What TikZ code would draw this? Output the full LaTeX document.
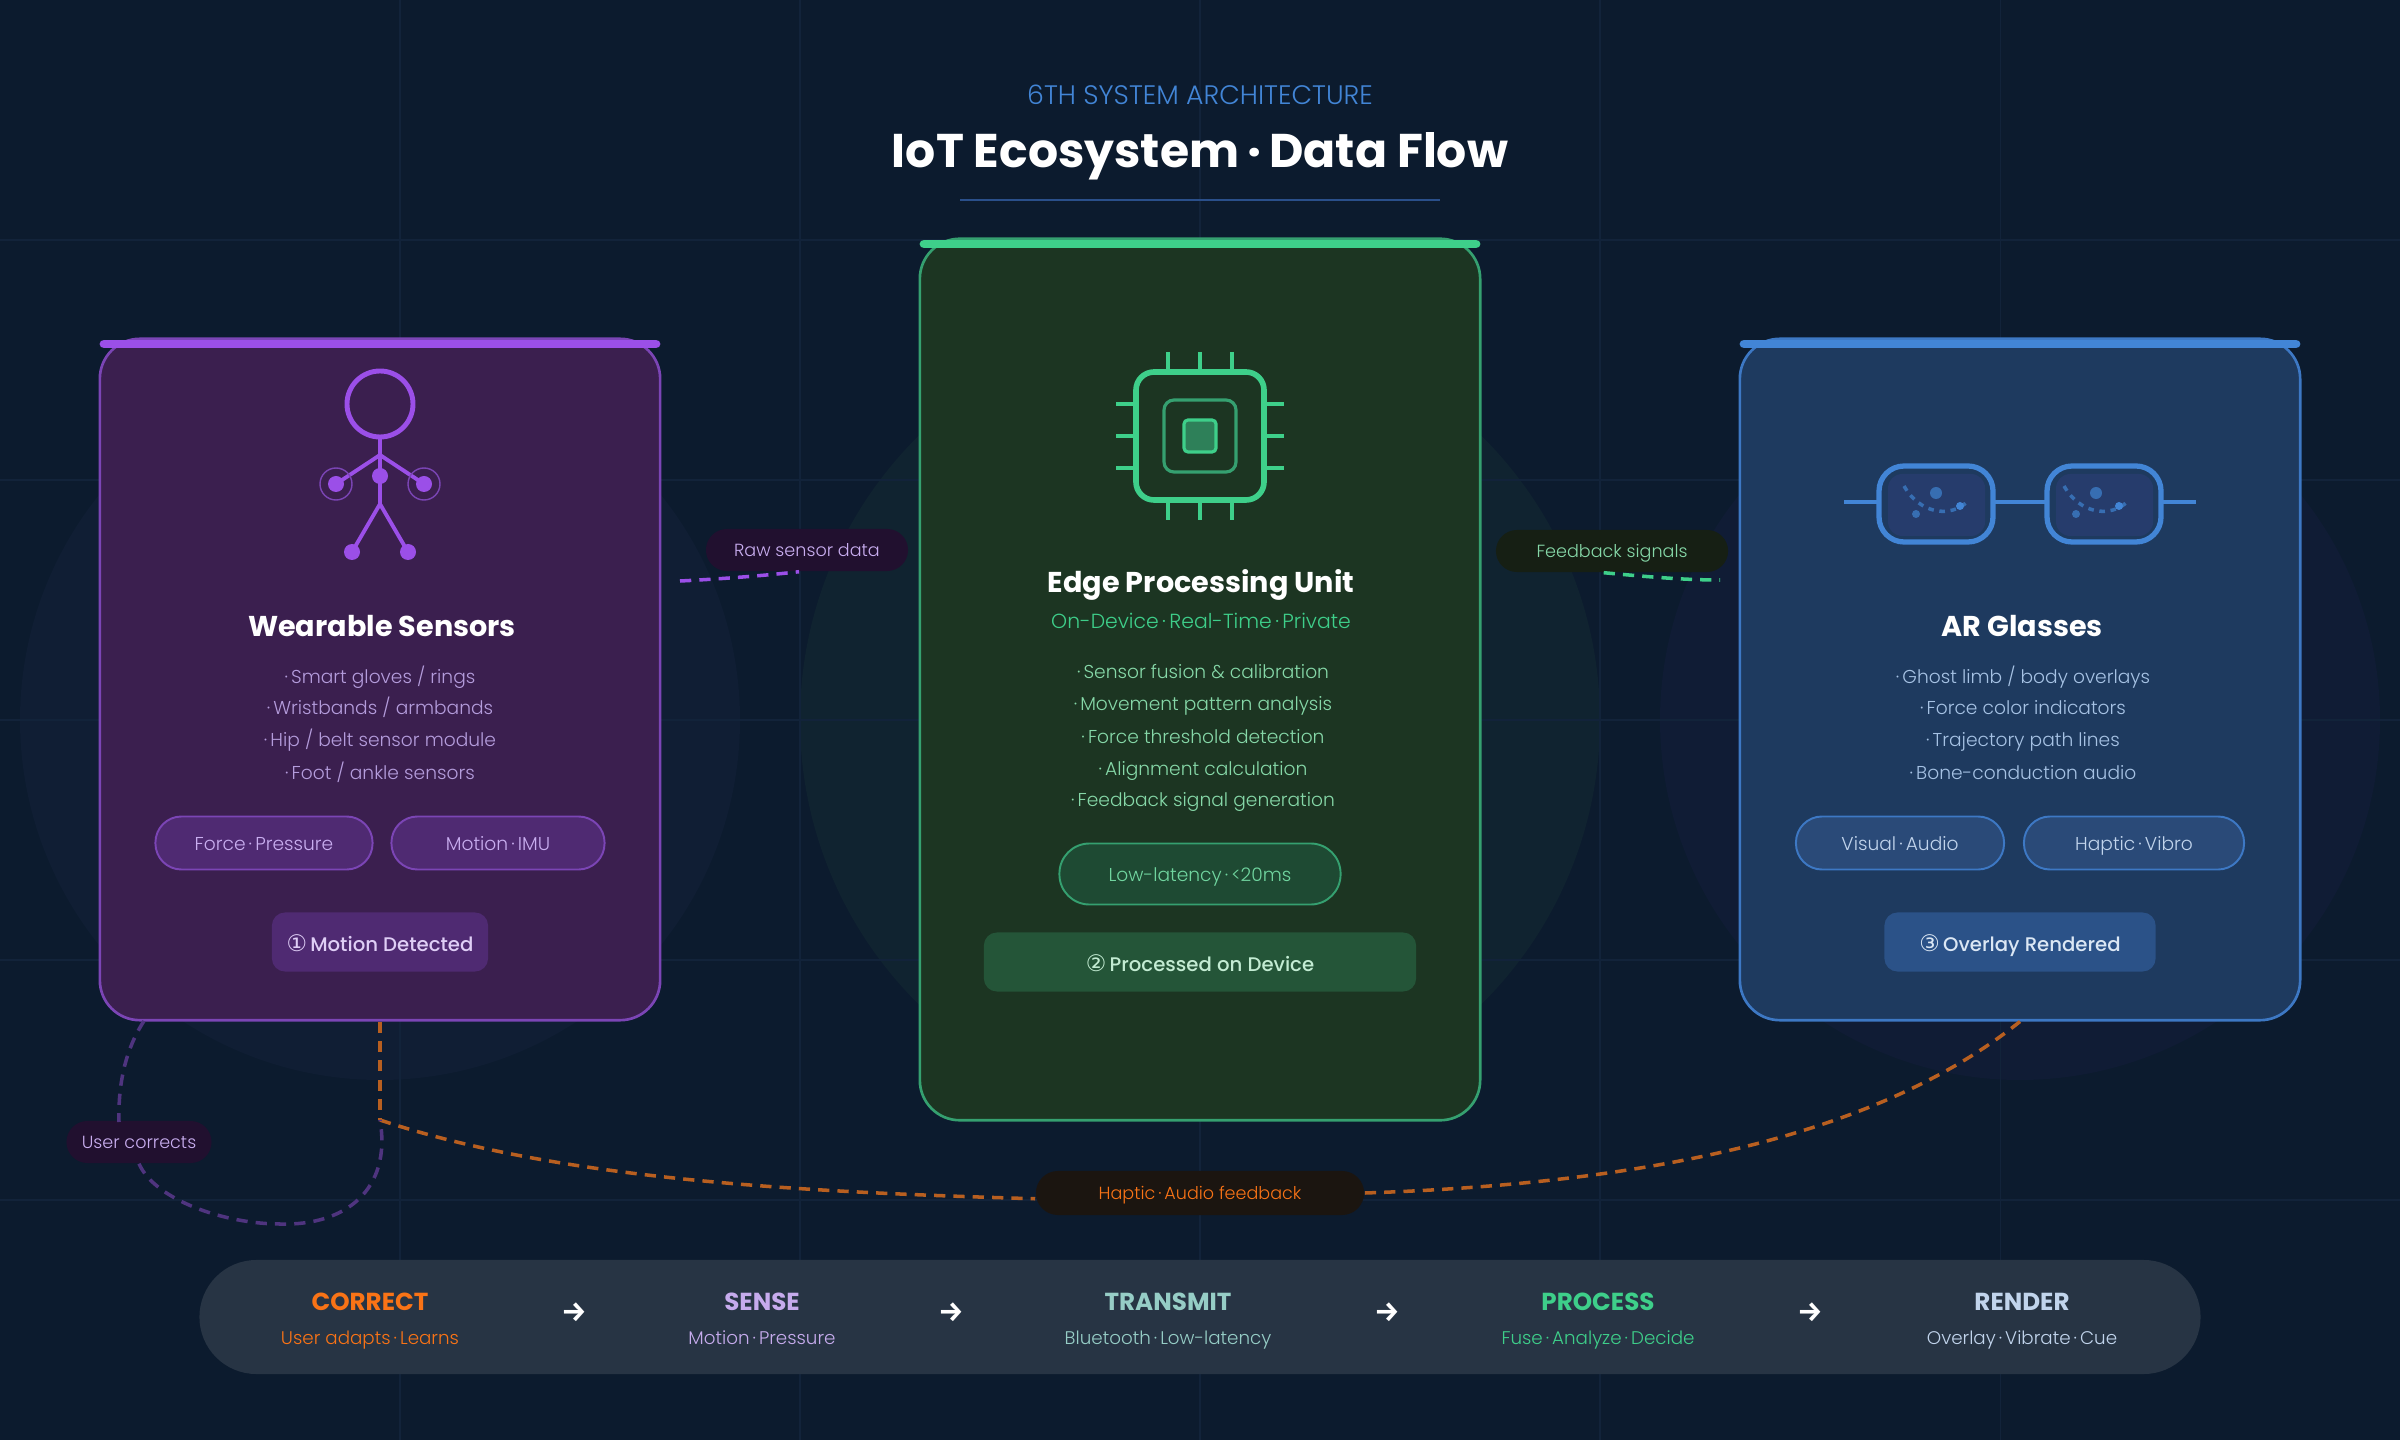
\documentclass[tikz,border=0pt]{standalone}
\usepackage{fontspec}
\usepackage{xcolor}
\setmainfont{Poppins}
\newfontfamily\symfont{DejaVu Sans}
\newfontfamily\arrowfont{Fira Sans}
\newfontfamily\lightfont{Poppins Light}
\newfontfamily\medfont{Poppins Medium}
\usetikzlibrary{arrows.meta, positioning, calc}

\definecolor{bgdark}{HTML}{0C1B2E}
\definecolor{gridcol}{HTML}{12233A}
\definecolor{glowpurple}{HTML}{101E34}
\definecolor{glowgreen}{HTML}{102330}
\definecolor{glowblue}{HTML}{101C35}
\definecolor{ruleblue}{HTML}{2A4F8A}
\definecolor{purplefill}{HTML}{3B1F4F}
\definecolor{purpleline}{HTML}{7B45B5}
\definecolor{purplemain}{HTML}{9B4FE8}
\definecolor{purpletext}{HTML}{B49CDC}
\definecolor{purplepill}{HTML}{4F2A72}
\definecolor{purplechip}{HTML}{C9AEF0}
\definecolor{purplelabel}{HTML}{21102F}
\definecolor{greenfill}{HTML}{1C3522}
\definecolor{greenline}{HTML}{35A070}
\definecolor{greenmain}{HTML}{3ECF8A}
\definecolor{greentext}{HTML}{86D8A8}
\definecolor{greenpill}{HTML}{1E4A33}
\definecolor{greenbadge}{HTML}{245538}
\definecolor{greenlabel}{HTML}{161F14}
\definecolor{bluefill}{HTML}{1E3A5F}
\definecolor{blueline}{HTML}{3D78C4}
\definecolor{bluemain}{HTML}{4285D6}
\definecolor{bluetext}{HTML}{A6C2E4}
\definecolor{bluepill}{HTML}{2A4A78}
\definecolor{bluebadge}{HTML}{2B5288}
\definecolor{bluelens}{HTML}{263C6C}
\definecolor{orangemain}{HTML}{F97316}
\definecolor{orangeline}{HTML}{B85F20}
\definecolor{orangelabel}{HTML}{1B1510}
\definecolor{barfill}{HTML}{273444}

\newcommand{\sepdot}{\,·\,}
\newcommand{\stagemark}[1]{{\symfont\fontsize{6.5}{7}\selectfont #1}\,}

\tikzset{
  card/.style={rectangle, rounded corners=0.4cm, line width=0.75pt, minimum width=5.6cm},
  topbar/.style={line width=2.5pt, line cap=round},
  cardtitle/.style={anchor=base, text=white, font=\fontsize{8.15}{9}\selectfont\bfseries},
  listline/.style={anchor=base, font=\lightfont\fontsize{5.3}{7}\selectfont},
  chippill/.style={rectangle, rounded corners=0.26cm, line width=0.55pt, minimum height=0.53cm, inner sep=0pt,
    text height=0.14cm, text depth=0pt, font=\lightfont\fontsize{5.3}{7}\selectfont},
  stagebadge/.style={rectangle, rounded corners=0.13cm, minimum height=0.59cm, inner sep=0pt,
    text height=0.19cm, text depth=0pt, font=\medfont\fontsize{5.6}{7}\selectfont},
  flowlabel/.style={rectangle, rounded corners=0.21cm, minimum height=0.42cm, inner sep=0pt,
    text height=0.13cm, text depth=0pt, font=\lightfont\fontsize{5}{6}\selectfont},
  flowline/.style={line width=1pt, dash pattern=on 3.2pt off 2.3pt},
  gridline/.style={gridcol, line width=0.3pt},
  stepname/.style={anchor=base, font=\fontsize{7}{8}\selectfont\bfseries},
  stepsub/.style={anchor=base, font=\lightfont\fontsize{5.2}{6}\selectfont},
  steparrow/.style={text=white, font=\arrowfont\bfseries\fontsize{8}{9}\selectfont},
}

\begin{document}
\begin{tikzpicture}[x=0.01cm, y=-0.01cm]
\useasboundingbox (0,0) rectangle (2400,1440);
\fill[bgdark] (0,0) rectangle (2400,1440);

% glow
\fill[glowpurple] (380,720) circle[radius=360];
\fill[glowgreen] (1200,720) circle[radius=400];
\fill[glowblue] (2020,720) circle[radius=360];

% grid
\draw[gridline] (0,240) -- (2400,240);
\draw[gridline] (0,480) -- (2400,480);
\draw[gridline] (0,720) -- (2400,720);
\draw[gridline] (0,960) -- (2400,960);
\draw[gridline] (0,1200) -- (2400,1200);
\draw[gridline] (400,0) -- (400,1440);
\draw[gridline] (800,0) -- (800,1440);
\draw[gridline] (1200,0) -- (1200,1440);
\draw[gridline] (1600,0) -- (1600,1440);
\draw[gridline] (2000,0) -- (2000,1440);

% heading
\node[anchor=base, text=bluemain, font=\lightfont\fontsize{7.6}{9}\selectfont] (headtop) at (1200,105) {6TH SYSTEM ARCHITECTURE};
\node[anchor=base, text=white, font=\fontsize{13.45}{16}\selectfont\bfseries] (headmain) at (1200,168) {IoT Ecosystem\sepdot Data Flow};
\draw[ruleblue, line width=0.6pt] (960,200) -- (1440,200);

% bottom strip
\node[rectangle, rounded corners=0.57cm, fill=barfill, minimum width=20cm, minimum height=1.14cm] (stripbox) at (1200,1317) {};

% wearable card
\node[card, fill=purplefill, draw=purpleline, minimum height=6.81cm] (wearcard) at (380,679.5) {};
\draw[topbar, purplemain] (104,344) -- (656,344);
\draw[purplemain, line width=1.4pt] (380,404) circle[radius=33];
\draw[purplemain, line width=1.4pt] (380,437) -- (380,504);
\draw[purplemain, line width=1.1pt] (380,455) -- (336,484);
\draw[purplemain, line width=1.1pt] (380,455) -- (424,484);
\draw[purplemain, line width=1.1pt] (380,504) -- (352,552);
\draw[purplemain, line width=1.1pt] (380,504) -- (408,552);
\fill[purplemain] (380,476) circle[radius=8];
\fill[purplemain] (336,484) circle[radius=8];
\fill[purplemain] (424,484) circle[radius=8];
\fill[purplemain] (352,552) circle[radius=8];
\fill[purplemain] (408,552) circle[radius=8];
\draw[purpleline, line width=0.4pt] (336,484) circle[radius=16];
\draw[purpleline, line width=0.4pt] (424,484) circle[radius=16];
\node[cardtitle] (weartitle) at (382,636.5) {Wearable Sensors};
\node[listline, text=purpletext] (wearline1) at (380,683) {·\,Smart gloves / rings};
\node[listline, text=purpletext] (wearline2) at (380,715) {·\,Wristbands / armbands};
\node[listline, text=purpletext] (wearline3) at (380,747) {·\,Hip / belt sensor module};
\node[listline, text=purpletext] (wearline4) at (380,779) {·\,Foot / ankle sensors};
\node[chippill, fill=purplepill, draw=purpleline, text=purplechip, minimum width=2.17cm] (wearchipa) at (264,843) {Force\sepdot Pressure};
\node[chippill, fill=purplepill, draw=purpleline, text=purplechip, minimum width=2.13cm] (wearchipb) at (498,843) {Motion\sepdot IMU};
\node[stagebadge, fill=purplepill, text=purplechip!60!white, minimum width=2.16cm] (wearbadge) at (380,942) {\stagemark{①}Motion Detected};

% edge card
\node[card, fill=greenfill, draw=greenline, minimum height=8.81cm] (edgecard) at (1200,679.5) {};
\draw[topbar, greenmain] (924,244) -- (1476,244);
\draw[greenmain, line width=1.6pt, rounded corners=0.18cm] (1136,372) rectangle (1264,500);
\draw[greenline, line width=0.9pt, rounded corners=0.1cm] (1164,400) rectangle (1236,472);
\draw[greenmain, line width=0.9pt, fill=greenline!70!greenfill, rounded corners=0.04cm] (1184,420) rectangle (1216,452);
\draw[greenmain, line width=1.1pt] (1168,352) -- (1168,372);
\draw[greenmain, line width=1.1pt] (1200,352) -- (1200,372);
\draw[greenmain, line width=1.1pt] (1232,352) -- (1232,372);
\draw[greenmain, line width=1.1pt] (1168,500) -- (1168,520);
\draw[greenmain, line width=1.1pt] (1200,500) -- (1200,520);
\draw[greenmain, line width=1.1pt] (1232,500) -- (1232,520);
\draw[greenmain, line width=1.1pt] (1116,404) -- (1136,404);
\draw[greenmain, line width=1.1pt] (1116,436) -- (1136,436);
\draw[greenmain, line width=1.1pt] (1116,468) -- (1136,468);
\draw[greenmain, line width=1.1pt] (1264,404) -- (1284,404);
\draw[greenmain, line width=1.1pt] (1264,436) -- (1284,436);
\draw[greenmain, line width=1.1pt] (1264,468) -- (1284,468);
\node[cardtitle] (edgetitle) at (1201,592.5) {Edge Processing Unit};
\node[anchor=base, text=greenmain, font=\lightfont\fontsize{5.8}{7}\selectfont] (edgesub) at (1201,628.5) {On-Device\sepdot Real-Time\sepdot Private};
\node[listline, text=greentext] (edgeline1) at (1203,679) {·\,Sensor fusion \& calibration};
\node[listline, text=greentext] (edgeline2) at (1203,711) {·\,Movement pattern analysis};
\node[listline, text=greentext] (edgeline3) at (1203,743) {·\,Force threshold detection};
\node[listline, text=greentext] (edgeline4) at (1203,775) {·\,Alignment calculation};
\node[listline, text=greentext] (edgeline5) at (1203,807) {·\,Feedback signal generation};
\node[chippill, rounded corners=0.3cm, fill=greenpill, draw=greenline, text=greentext!70!greenmain, minimum width=2.81cm, minimum height=0.61cm] (edgechip) at (1200,874) {Low-latency\sepdot <20ms};
\node[stagebadge, fill=greenbadge, text=greentext!50!white, minimum width=4.32cm] (edgebadge) at (1200,962) {\stagemark{②}Processed on Device};

% glasses card
\node[card, fill=bluefill, draw=blueline, minimum height=6.81cm] (arcard) at (2020,679.5) {};
\draw[topbar, bluemain] (1744,344) -- (2296,344);
\fill[bluelens, rounded corners=0.14cm] (1888,474) rectangle (1985,536);
\fill[bluelens, rounded corners=0.14cm] (2056,474) rectangle (2153,536);
\draw[bluemain, line width=1.5pt, rounded corners=0.25cm] (1879,466) rectangle (1993,542);
\draw[bluemain, line width=1.5pt, rounded corners=0.25cm] (2047,466) rectangle (2161,542);
\draw[bluemain, line width=1.1pt] (1844,502) -- (1879,502);
\draw[bluemain, line width=1.1pt] (1993,502) -- (2047,502);
\draw[bluemain, line width=1.1pt] (2161,502) -- (2196,502);
\draw[bluemain!70!bluefill, line width=1pt, dash pattern=on 1.6pt off 1.6pt] (1904,486) .. controls (1920,514) and (1950,518) .. (1967,502);
\draw[bluemain!70!bluefill, line width=1pt, dash pattern=on 1.6pt off 1.6pt] (2064,486) .. controls (2080,514) and (2110,518) .. (2127,502);
\fill[bluemain!70!bluefill] (1936,493) circle[radius=6];
\fill[bluemain!70!bluefill] (1916,514) circle[radius=4];
\fill[bluemain] (1960,506) circle[radius=4];
\fill[bluemain!70!bluefill] (2096,493) circle[radius=6];
\fill[bluemain!70!bluefill] (2076,514) circle[radius=4];
\fill[bluemain] (2119,506) circle[radius=4];
\node[cardtitle] (artitle) at (2022,636.5) {AR Glasses};
\node[listline, text=bluetext] (arline1) at (2023,683) {·\,Ghost limb / body overlays};
\node[listline, text=bluetext] (arline2) at (2023,715) {·\,Force color indicators};
\node[listline, text=bluetext] (arline3) at (2023,747) {·\,Trajectory path lines};
\node[listline, text=bluetext] (arline4) at (2023,779) {·\,Bone-conduction audio};
\node[chippill, fill=bluepill, draw=blueline, text=bluetext!70!white, minimum width=2.08cm] (archipa) at (1900,843) {Visual\sepdot Audio};
\node[chippill, fill=bluepill, draw=blueline, text=bluetext!70!white, minimum width=2.2cm] (archipb) at (2134,843) {Haptic\sepdot Vibro};
\node[stagebadge, fill=bluebadge, text=bluetext!40!white, minimum width=2.71cm] (arbadge) at (2020,942) {\stagemark{③}Overlay Rendered};

% flow labels
\node[flowlabel, fill=purplelabel, text=purplechip, minimum width=2.02cm] (rawlabel) at (807,550) {Raw sensor data};
\node[flowlabel, fill=greenlabel, text=greentext, minimum width=2.32cm] (feedlabel) at (1612,551) {Feedback signals};
\node[flowlabel, fill=purplelabel, text=purplechip, minimum width=1.45cm] (fixlabel) at (139,1142) {User corrects};
\node[flowlabel, rounded corners=0.22cm, fill=orangelabel, text=orangemain, minimum width=3.28cm, minimum height=0.44cm] (hapticlabel) at (1200,1193) {Haptic\sepdot Audio feedback};

% free ends
\coordinate (rawfrom) at (680,581);
\coordinate (feedto) at (1720,580);
\coordinate (hapticjoin) at (380,1120);
\coordinate (fixfrom) at (144,1021);

% dashed flows
\draw[flowline, purplemain] (rawfrom) .. controls (720,579) and (760,576) .. (rawlabel.250);
\draw[flowline, greenmain] (feedlabel.249) .. controls (1640,576) and (1680,580) .. (feedto);
\draw[flowline, orangeline] (wearcard.south) -- (hapticjoin);
\draw[flowline, orangeline] (hapticjoin) .. controls (560,1180) and (800,1192) .. (hapticlabel.182);
\draw[flowline, orangeline] (hapticlabel.east) .. controls (1600,1185) and (1860,1150) .. (arcard.south);
\draw[flowline, purpleline!60!bgdark] (fixfrom) .. controls (125,1050) and (118,1085) .. (119,1122);
\draw[flowline, purpleline!60!bgdark] (fixlabel.south) .. controls (155,1200) and (225,1224) .. (280,1224) .. controls (345,1226) and (392,1190) .. (hapticjoin);

% pipeline strip
\node[stepname, text=orangemain] (correctname) at (370,1310) {CORRECT};
\node[stepsub, text=orangemain] (correctsub) at (370,1344) {User adapts\sepdot Learns};
\node[stepname, text=purplechip!85!purpletext] (sensename) at (762,1310) {SENSE};
\node[stepsub, text=purplechip!85!purpletext] (sensesub) at (762,1344) {Motion\sepdot Pressure};
\node[stepname, text=greentext!50!bluetext] (transmitname) at (1168,1310) {TRANSMIT};
\node[stepsub, text=greentext!50!bluetext] (transmitsub) at (1168,1344) {Bluetooth\sepdot Low-latency};
\node[stepname, text=greenmain] (processname) at (1598,1310) {PROCESS};
\node[stepsub, text=greenmain] (processsub) at (1598,1344) {Fuse\sepdot Analyze\sepdot Decide};
\node[stepname, text=bluetext!70!white] (rendername) at (2022,1310) {RENDER};
\node[stepsub, text=bluetext!70!white] (rendersub) at (2022,1344) {Overlay\sepdot Vibrate\sepdot Cue};
\node[steparrow] (steparrowa) at (574,1312) {→};
\node[steparrow] (steparrowb) at (951,1312) {→};
\node[steparrow] (steparrowc) at (1387,1312) {→};
\node[steparrow] (steparrowd) at (1810,1312) {→};
\end{tikzpicture}
\end{document}
